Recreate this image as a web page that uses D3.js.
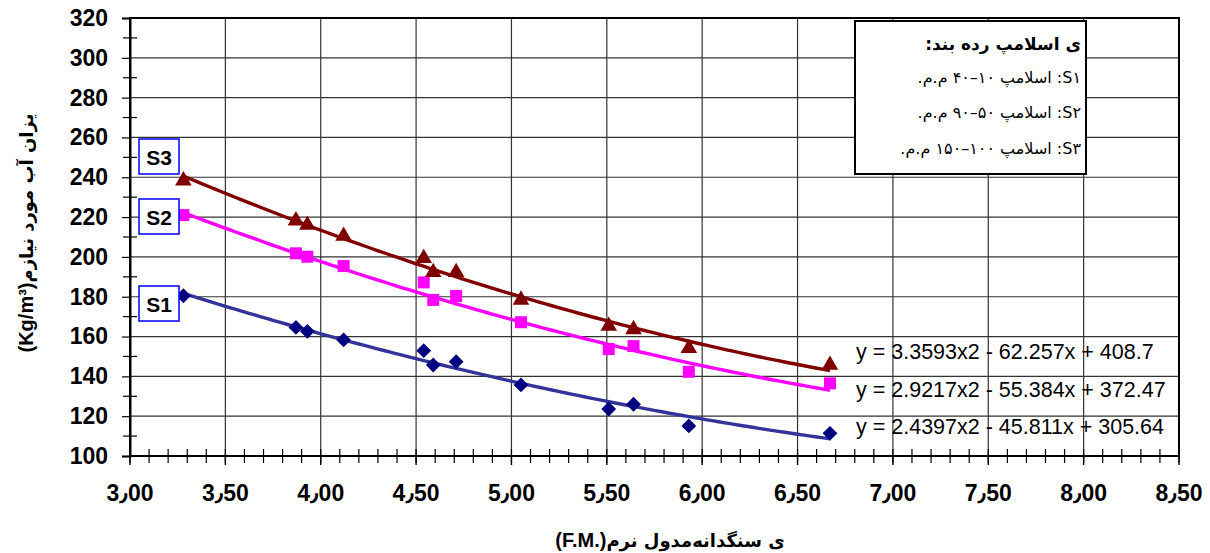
<!DOCTYPE html>
<html>
<head>
<meta charset="utf-8">
<script src="https://cdn.jsdelivr.net/npm/d3@7/dist/d3.min.js"></script>
<style>
  html, body { margin: 0; padding: 0; background: #fff; }
  svg { display: block; font-family: "Liberation Sans", Arial, "DejaVu Sans", sans-serif; }
</style>
</head>
<body>
<svg id="chart" width="1210" height="553"></svg>
<script>
// ---- data ----
const fmValues = [3.28, 3.87, 3.93, 4.12, 4.54, 4.59, 4.71, 5.05, 5.51, 5.64, 5.93, 6.67];
const s1Values = [180.5, 164.6, 162.6, 158.3, 152.9, 145.7, 147.4, 135.7, 123.6, 126.0, 115.1, 111.4];
const s2Values = [221.0, 201.8, 200.1, 195.4, 187.2, 178.4, 180.4, 167.2, 153.7, 155.2, 142.3, 136.5];
const s3Values = [238.3, 218.2, 216.0, 210.5, 199.3, 192.3, 192.3, 178.4, 165.3, 163.6, 154.1, 145.7];

// polynomial trendline coefficients as printed on the chart (a, b, c of a*x^2 + b*x + c)
const s1Trend = [2.4397, -45.811, 305.64];
const s2Trend = [2.9217, -55.384, 372.47];
const s3Trend = [3.3593, -62.257, 408.7];

const equationLabels = [
  "y = 3.3593x2 - 62.257x + 408.7",
  "y = 2.9217x2 - 55.384x + 372.47",
  "y = 2.4397x2 - 45.811x + 305.64"
];
const seriesNames = ["S1", "S2", "S3"];
const xTickValues = [3.0, 3.5, 4.0, 4.5, 5.0, 5.5, 6.0, 6.5, 7.0, 7.5, 8.0, 8.5];
const yTickValues = [100, 120, 140, 160, 180, 200, 220, 240, 260, 280, 300, 320];
const legendTitle = "ی اسلامپ رده بند:";
const legendLines = ["S۱: اسلامپ ۱۰–۴۰ م.م.", "S۲: اسلامپ ۵۰–۹۰ م.م.", "S۳: اسلامپ ۱۰۰–۱۵۰ م.م."];
const xTitlePersian = "ی سنگدانه‌مدول نرم";
const xTitleLatin = "(F.M.)";
const yTitlePersian = "یزان آب مورد نیازم";
const yTitleLatin = "(Kg/m³)";

// ---- layout ----
const svg = d3.select("#chart");
const L = 130, R = 1179, T = 18, B = 456;
const x = d3.scaleLinear().domain([3, 8.5]).range([L, R]);
const y = d3.scaleLinear().domain([100, 320]).range([B, T]);

// grid
const grid = svg.append("g");
grid.selectAll("line.vx").data(xTickValues).join("line")
  .attr("x1", d => x(d)).attr("x2", d => x(d)).attr("y1", T).attr("y2", B)
  .attr("stroke", "#333").attr("stroke-width", 1.2);
grid.selectAll("line.hy").data(yTickValues).join("line")
  .attr("x1", L).attr("x2", R).attr("y1", d => y(d)).attr("y2", d => y(d))
  .attr("stroke", "#333").attr("stroke-width", 1.2);

// frame
svg.append("rect").attr("x", L).attr("y", T).attr("width", R - L).attr("height", B - T)
  .attr("fill", "none").attr("stroke", "#000").attr("stroke-width", 2);

// y axis: labels every 20, ticks every 10 (minor ones cross the axis)
const yAxis = d3.axisLeft(y).tickValues(yTickValues).tickSize(8).tickFormat(d3.format("d"));
const gy = svg.append("g").attr("transform", `translate(${L},0)`).call(yAxis);
gy.select(".domain").attr("stroke-width", 2);
gy.selectAll(".tick line").attr("stroke", "#000").attr("stroke-width", 1.2);
gy.selectAll(".tick text").attr("x", -22).attr("font-size", 23).attr("font-weight", "bold")
  .attr("fill", "#000").attr("font-family", "Liberation Sans, Arial, sans-serif");
const yMinor = d3.range(110, 320, 20);
gy.selectAll("line.yminor").data(yMinor).join("line")
  .attr("x1", -7).attr("x2", 7).attr("y1", d => y(d)).attr("y2", d => y(d))
  .attr("stroke", "#000").attr("stroke-width", 1.2);

// x axis: minor ticks crossing, major ticks below
const gx = svg.append("g").attr("transform", `translate(0,${B})`);
const minor = d3.range(30, 86, 1).map(v => v / 10);
gx.selectAll("line.minor").data(minor).join("line")
  .attr("x1", d => x(d)).attr("x2", d => x(d)).attr("y1", -7).attr("y2", 7)
  .attr("stroke", "#000").attr("stroke-width", 1.2);
gx.selectAll("line.major").data(xTickValues).join("line")
  .attr("x1", d => x(d)).attr("x2", d => x(d)).attr("y1", 0).attr("y2", 9)
  .attr("stroke", "#000").attr("stroke-width", 1.4);
gx.append("line").attr("x1", L).attr("x2", R).attr("y1", 0).attr("y2", 0)
  .attr("stroke", "#000").attr("stroke-width", 2.2);
gx.selectAll("text").data(xTickValues).join("text")
  .attr("x", d => x(d)).attr("y", 45).attr("text-anchor", "middle")
  .attr("font-size", 23).attr("font-weight", "bold").attr("fill", "#000")
  .text(d => d3.format(".2f")(d).replace(".", "٫"));

// trendlines
const trendDefs = [
  { coef: s3Trend, color: "#800000" },
  { coef: s2Trend, color: "#FF00FF" },
  { coef: s1Trend, color: "#333399" }
];
const xMin = d3.min(fmValues), xMax = d3.max(fmValues);
const samples = d3.range(0, 101).map(i => xMin + (xMax - xMin) * i / 100);
const line = d3.line().x(d => x(d[0])).y(d => y(d[1]));
trendDefs.forEach(t => {
  const pts = samples.map(v => [v, t.coef[0] * v * v + t.coef[1] * v + t.coef[2]]);
  svg.append("path").attr("d", line(pts)).attr("fill", "none")
    .attr("stroke", t.color).attr("stroke-width", 3.4).attr("stroke-linejoin", "round");
});

// markers
const s1Pts = fmValues.map((v, i) => [v, s1Values[i]]);
const s2Pts = fmValues.map((v, i) => [v, s2Values[i]]);
const s3Pts = fmValues.map((v, i) => [v, s3Values[i]]);
svg.append("g").selectAll("path").data(s1Pts).join("path")
  .attr("d", d3.symbol().type(d3.symbolDiamond2).size(140)())
  .attr("transform", d => `translate(${x(d[0])},${y(d[1])})`)
  .attr("fill", "#000080");
svg.append("g").selectAll("rect").data(s2Pts).join("rect")
  .attr("x", d => x(d[0]) - 6).attr("y", d => y(d[1]) - 6)
  .attr("width", 12).attr("height", 12).attr("fill", "#FF00FF");
svg.append("g").selectAll("path").data(s3Pts).join("path")
  .attr("d", d3.symbol().type(d3.symbolTriangle).size(120)())
  .attr("transform", d => `translate(${x(d[0])},${y(d[1])})`)
  .attr("fill", "#800000");

// series label boxes
const boxes = [
  { name: seriesNames[2], top: 139 },
  { name: seriesNames[1], top: 199 },
  { name: seriesNames[0], top: 286 }
];
boxes.forEach(b => {
  svg.append("rect").attr("x", 139).attr("y", b.top).attr("width", 40).attr("height", 35)
    .attr("fill", "#fff").attr("stroke", "#0000FF").attr("stroke-width", 1.5);
  svg.append("text").attr("x", 159).attr("y", b.top + 18).attr("text-anchor", "middle")
    .attr("dominant-baseline", "central").attr("font-size", 21).attr("font-weight", "bold")
    .text(b.name);
});

// equations
const eqY = [352, 390, 427];
equationLabels.forEach((t, i) => {
  svg.append("text").attr("x", 856).attr("y", eqY[i]).attr("dominant-baseline", "central")
    .attr("font-size", 21.5).attr("fill", "#000").text(t);
});

// legend box
svg.append("rect").attr("x", 855).attr("y", 21).attr("width", 231).attr("height", 153)
  .attr("fill", "#fff").attr("stroke", "#000").attr("stroke-width", 2);
svg.append("text").attr("x", 1081).attr("y", 44).attr("direction", "rtl")
  .attr("text-anchor", "start").attr("dominant-baseline", "central")
  .attr("font-family", "DejaVu Sans, sans-serif").attr("font-size", 17).attr("font-weight", "bold")
  .text(legendTitle);
const lgY = [77, 112, 148];
legendLines.forEach((t, i) => {
  svg.append("text").attr("x", 1081).attr("y", lgY[i]).attr("direction", "rtl")
    .attr("text-anchor", "start").attr("dominant-baseline", "central")
    .attr("font-family", "DejaVu Sans, sans-serif").attr("font-size", 16)
    .text(t);
});

// x title (left-to-right paragraph: Latin part first, then the Persian run)
const xt = svg.append("text").attr("x", 670).attr("y", 540).attr("direction", "ltr")
  .attr("text-anchor", "middle").attr("dominant-baseline", "central");
xt.append("tspan").attr("font-size", 20).attr("font-weight", "bold").text(xTitleLatin);
xt.append("tspan").attr("font-family", "DejaVu Sans, sans-serif").attr("font-size", 18)
  .attr("font-weight", "bold").text(xTitlePersian);

// y title
const yt = svg.append("text").attr("transform", "translate(26,233) rotate(-90)")
  .attr("direction", "ltr").attr("text-anchor", "middle").attr("dominant-baseline", "central");
yt.append("tspan").attr("font-size", 20).attr("font-weight", "bold").text(yTitleLatin);
yt.append("tspan").attr("font-family", "DejaVu Sans, sans-serif").attr("font-size", 18)
  .attr("font-weight", "bold").text(yTitlePersian);
</script>
</body>
</html>
